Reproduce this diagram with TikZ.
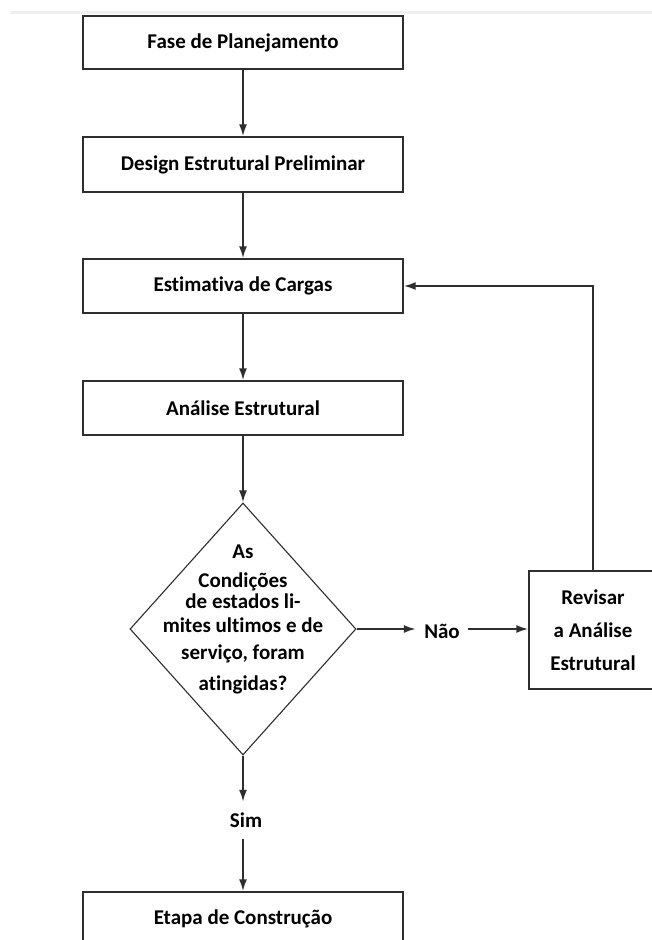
\documentclass[tikz,border=0pt]{standalone}
\usepackage{fontspec}
\setmainfont{Carlito}[Ligatures=NoCommon]
\usetikzlibrary{arrows.meta,shapes.geometric}
\definecolor{ln}{HTML}{2E2E2E}
\tikzset{
  stepbox/.style={draw=ln, line width=1.4bp, minimum width=320bp, inner sep=0pt, font=\fontsize{21bp}{25bp}\selectfont\bfseries, text=black},
  conn/.style={draw=ln, line width=2bp, -{Latex[length=12bp,width=8bp]}},
  lbl/.style={inner sep=0pt, font=\fontsize{21bp}{25bp}\selectfont\bfseries, text=black}
}
\begin{document}
\begin{tikzpicture}[x=1bp,y=-1bp]
\useasboundingbox (0,0) rectangle (652,940);
\fill[white] (0,0) rectangle (652,940);
\draw[gray!12, line width=3bp] (10,12) -- (652,12);

\node[stepbox, minimum height=53bp] (b1) at (243,42.5) {Fase de Planejamento};
\node[stepbox, minimum height=55bp] (b2) at (243,164.5) {Design Estrutural Preliminar};
\node[stepbox, minimum height=54bp] (b3) at (243,286) {Estimativa de Cargas};
\node[stepbox, minimum height=54bp] (b4) at (243,408) {Análise Estrutural};
\node[draw=ln, line width=1.1bp, shape=diamond, minimum width=226bp, minimum height=252bp, inner sep=0pt] (dia) at (243,629) {};
\node[lbl, align=center] (q) at (243,619) {As\\[4bp]Condições\\[-4bp]de estados li-\\[-1bp]mites ultimos e de\\[2bp]serviço, foram\\[6bp]atingidas?};
\node[stepbox, minimum width=128bp, minimum height=118bp, align=center, font=\fontsize{21bp}{33bp}\selectfont\bfseries] (rev) at (593,630) {Revisar\\a Análise\\Estrutural};
\node[lbl, minimum width=52bp] (nao) at (442,631) {Não};
\node[lbl, minimum height=37bp] (sim) at (246,820.5) {Sim};
\node[stepbox, minimum height=54bp] (b6) at (243,919) {Etapa de Construção};

\draw[conn] (b1) -- (b2);
\draw[conn] (b2) -- (b3);
\draw[conn] (b3) -- (b4);
\draw[conn] (b4) -- (dia.north);
\draw[conn] (dia.east) -- (nao.west |- dia.east);
\draw[conn] (nao.east |- dia.east) -- (rev.west |- dia.east);
\draw[conn] (rev.north) |- (b3.east);
\draw[conn] (dia.south) -- (dia.south |- sim.north);
\draw[conn] (dia.south |- sim.south) -- (b6.north);
\end{tikzpicture}
\end{document}
